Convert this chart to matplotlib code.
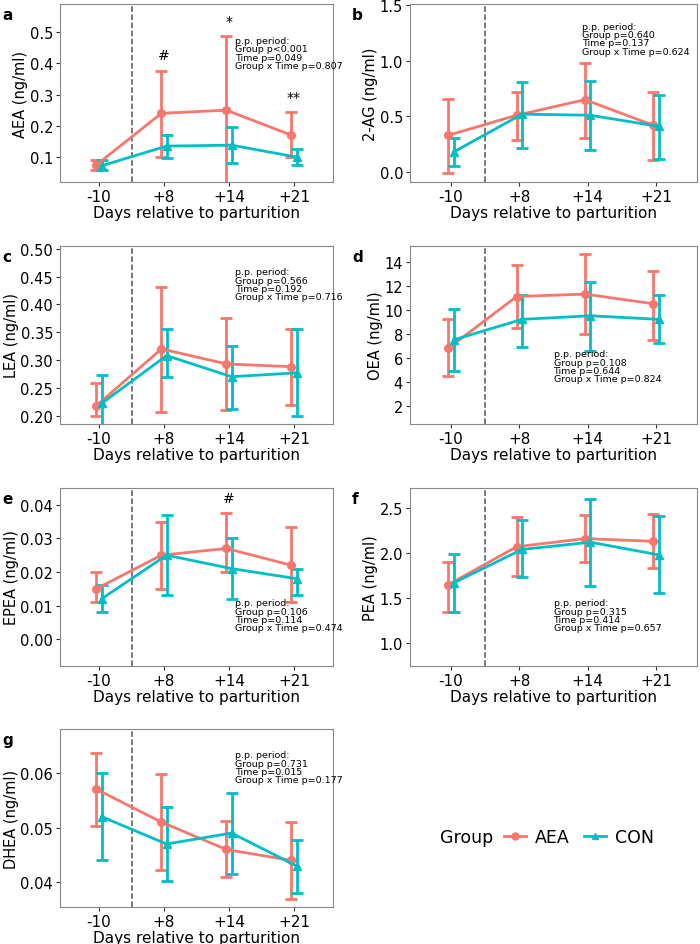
import matplotlib.pyplot as plt
from matplotlib.lines import Line2D

COLOR_AEA = '#F8766D'
COLOR_CON = '#00BFC4'

days = ['-10', '+8', '+14', '+21']

# per panel: means, lower, upper for AEA and CON
aea_mean = {
    'a': [0.075, 0.24, 0.25, 0.17],
    'b': [0.33, 0.51, 0.65, 0.42],
    'c': [0.218, 0.32, 0.293, 0.288],
    'd': [6.8, 11.1, 11.3, 10.5],
    'e': [0.015, 0.025, 0.027, 0.022],
    'f': [1.65, 2.07, 2.16, 2.13],
    'g': [0.057, 0.051, 0.046, 0.044],
}
aea_lo = {
    'a': [0.06, 0.10, 0.012, 0.10],
    'b': [-0.01, 0.29, 0.31, 0.11],
    'c': [0.20, 0.207, 0.21, 0.22],
    'd': [4.5, 8.5, 8.0, 7.5],
    'e': [0.011, 0.015, 0.020, 0.011],
    'f': [1.35, 1.75, 1.90, 1.84],
    'g': [0.0503, 0.0422, 0.041, 0.037],
}
aea_hi = {
    'a': [0.09, 0.377, 0.487, 0.244],
    'b': [0.66, 0.72, 0.98, 0.72],
    'c': [0.258, 0.432, 0.375, 0.355],
    'd': [9.2, 13.7, 14.6, 13.2],
    'e': [0.020, 0.035, 0.0375, 0.0335],
    'f': [1.90, 2.40, 2.42, 2.43],
    'g': [0.0637, 0.0598, 0.0512, 0.051],
}
con_mean = {
    'a': [0.072, 0.135, 0.138, 0.10],
    'b': [0.18, 0.52, 0.51, 0.41],
    'c': [0.222, 0.308, 0.27, 0.277],
    'd': [7.5, 9.2, 9.5, 9.2],
    'e': [0.012, 0.025, 0.021, 0.018],
    'f': [1.67, 2.04, 2.12, 1.98],
    'g': [0.052, 0.047, 0.049, 0.043],
}
con_lo = {
    'a': [0.058, 0.098, 0.08, 0.075],
    'b': [0.05, 0.22, 0.20, 0.12],
    'c': [0.18, 0.27, 0.212, 0.20],
    'd': [4.9, 6.9, 6.6, 7.2],
    'e': [0.008, 0.013, 0.012, 0.013],
    'f': [1.35, 1.73, 1.64, 1.56],
    'g': [0.044, 0.0403, 0.0415, 0.038],
}
con_hi = {
    'a': [0.09, 0.17, 0.195, 0.125],
    'b': [0.31, 0.81, 0.82, 0.69],
    'c': [0.273, 0.355, 0.325, 0.356],
    'd': [10.1, 11.2, 12.3, 11.2],
    'e': [0.016, 0.037, 0.030, 0.021],
    'f': [1.99, 2.37, 2.60, 2.41],
    'g': [0.060, 0.0537, 0.0564, 0.0478],
}

ylabels = {'a': 'AEA (ng/ml)', 'b': '2-AG (ng/ml)', 'c': 'LEA (ng/ml)', 'd': 'OEA (ng/ml)',
           'e': 'EPEA (ng/ml)', 'f': 'PEA (ng/ml)', 'g': 'DHEA (ng/ml)'}
ylims = {'a': (0.02, 0.59), 'b': (-0.09, 1.51), 'c': (0.185, 0.505), 'd': (0.5, 15.3),
         'e': (-0.008, 0.045), 'f': (0.75, 2.72), 'g': (0.0355, 0.068)}
yticks = {'a': [0.1, 0.2, 0.3, 0.4, 0.5], 'b': [0.0, 0.5, 1.0, 1.5],
          'c': [0.20, 0.25, 0.30, 0.35, 0.40, 0.45, 0.50], 'd': [2, 4, 6, 8, 10, 12, 14],
          'e': [0.00, 0.01, 0.02, 0.03, 0.04], 'f': [1.0, 1.5, 2.0, 2.5],
          'g': [0.04, 0.05, 0.06]}
yfmt = {'a': '{:.1f}', 'b': '{:.1f}', 'c': '{:.2f}', 'd': '{:.0f}', 'e': '{:.2f}',
        'f': '{:.1f}', 'g': '{:.2f}'}
stats_txt = {
    'a': ['p<0.001', '0.049', '0.807'],
    'b': ['p=0.640', '0.137', '0.624'],
    'c': ['p=0.566', '0.192', '0.716'],
    'd': ['p=0.108', '0.644', '0.824'],
    'e': ['p=0.106', '0.114', '0.474'],
    'f': ['p=0.315', '0.414', '0.657'],
    'g': ['p=0.731', '0.015', '0.177'],
}
# text anchor in axes coords (x, y top)
stats_pos = {'a': (0.64, 0.82), 'b': (0.6, 0.9), 'c': (0.64, 0.88), 'd': (0.5, 0.42),
             'e': (0.64, 0.38), 'f': (0.5, 0.38), 'g': (0.64, 0.88)}
# significance marks: panel -> list of (index, label)
sig_marks = {'a': [(1, '#'), (2, '*'), (3, '**')], 'e': [(2, '#')]}

W, H = 700, 945
row_tops = [5, 247, 489, 730]
ax_h = 178
left_x, left_w = 60, 273
right_x, right_w = 410, 287
layout = {'a': (0, 'L'), 'b': (0, 'R'), 'c': (1, 'L'), 'd': (1, 'R'),
          'e': (2, 'L'), 'f': (2, 'R'), 'g': (3, 'L')}

fig = plt.figure(figsize=(7, 9.45), dpi=100)
x = list(range(4))
dodge = 0.04

for key, (row, side) in layout.items():
    x0, w = (left_x, left_w) if side == 'L' else (right_x, right_w)
    top = row_tops[row]
    ax = fig.add_axes([x0 / W, 1 - (top + ax_h) / H, w / W, ax_h / H])
    for mean, lo, hi, col, mk, off in [
        (aea_mean[key], aea_lo[key], aea_hi[key], COLOR_AEA, 'o', -dodge),
        (con_mean[key], con_lo[key], con_hi[key], COLOR_CON, '^', dodge),
    ]:
        xs = [i + off for i in x]
        yerr = [[m - l for m, l in zip(mean, lo)], [h - m for m, h in zip(mean, hi)]]
        ax.errorbar(xs, mean, yerr=yerr, color=col, marker=mk, markersize=5.5,
                    linewidth=2, elinewidth=2, capsize=4, capthick=2)
    ax.axvline(0.5, color='#555555', linestyle='--', linewidth=1.1)
    ax.set_xlim(-0.6, 3.6)
    ax.set_ylim(*ylims[key])
    ax.set_xticks(x)
    ax.set_xticklabels(days, fontsize=11)
    ax.set_yticks(yticks[key])
    ax.set_yticklabels([yfmt[key].format(v) for v in yticks[key]], fontsize=10.5)
    ax.tick_params(length=3, color='#333333', pad=2)
    ax.set_xlabel('Days relative to parturition', fontsize=11, labelpad=1)
    ax.set_ylabel(ylabels[key], fontsize=10.5, labelpad=1)
    for sp in ax.spines.values():
        sp.set_color('#888888')
    g, t, gt = stats_txt[key]
    txt = f'p.p. period:\nGroup {g}\nTime p={t}\nGroup x Time p={gt}'
    px, py = stats_pos[key]
    ax.text(px, py, txt, transform=ax.transAxes, fontsize=6.8, va='top', ha='left',
            linespacing=0.9)
    for idx, lab in sig_marks.get(key, []):
        top_y = max(aea_hi[key][idx], con_hi[key][idx])
        ax.annotate(lab, (idx, top_y), xytext=(0, 6), textcoords='offset points',
                    ha='center', va='bottom', fontsize=10)
    fig.text((x0 - 58) / W, 1 - (top + 3) / H, key, fontsize=11, fontweight='bold',
             va='top', ha='left')

handles = [Line2D([], [], color=COLOR_AEA, marker='o', linewidth=2, markersize=5),
           Line2D([], [], color=COLOR_CON, marker='^', linewidth=2, markersize=5)]
fig.legend(handles, ['AEA', 'CON'], loc='center left',
           bbox_to_anchor=(488 / W, 1 - 838 / H), ncol=2, frameon=False,
           fontsize=12.5, handlelength=1.3, columnspacing=0.8, handletextpad=0.5)
fig.text(440 / W, 1 - 838 / H, 'Group', fontsize=12.5, ha='left', va='center')

fig.savefig('out.png', dpi=100)
